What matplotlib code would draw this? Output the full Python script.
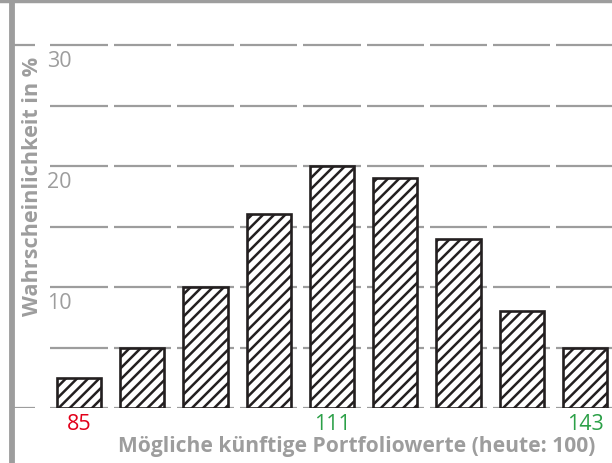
import matplotlib.pyplot as plt
from matplotlib.lines import Line2D

# Daten
categories = ["85", "", "", "", "111", "", "", "", "143"]
values = [2.5, 5, 10, 16, 20, 19, 14, 8, 5]
label_colors = ["#e2001a", None, None, None, "#2ca048", None, None, None, "#2ca048"]
y_ticks = [10, 20, 30]
grid_levels = [0, 5, 10, 15, 20, 25, 30]

GRAY = "#9d9d9d"
plt.rcParams["font.family"] = ["Open Sans", "DejaVu Sans"]
plt.rcParams["hatch.linewidth"] = 1.8
plt.rcParams["hatch.color"] = "#231f20"

W, H = 612, 464
fig = plt.figure(figsize=(W / 100, H / 100), dpi=100)
ax = fig.add_axes([14 / W, (H - 409) / H, 1 - 14 / W, 406 / H])
ax.set_xlim(-1.028, 8.427)
ax.set_ylim(0, 406 / 12.1)
ax.axis("off")

# Gitterlinien, je Kategorie ein Segment
x = list(range(len(values)))
for lvl in grid_levels:
    ax.hlines([lvl] * len(x), [i - 0.452 for i in x], [i + 0.452 for i in x],
              color=GRAY, lw=1.6, zorder=1)
for lvl in [0, 30]:
    ax.hlines(lvl, -1.1, -0.70, color=GRAY, lw=1.6, zorder=1)

ax.bar(x, values, width=0.70, facecolor="white", edgecolor="#231f20",
       linewidth=1.9, hatch="///", zorder=3)

for t in y_ticks:
    ax.text(-0.5, t - 0.4, str(t), color=GRAY, fontsize=15.5,
            ha="left", va="top")

for i, (lab, col) in enumerate(zip(categories, label_colors)):
    if lab:
        ax.text(i, -0.45, lab, color=col, fontsize=15.5, ha="center", va="top")

fig.text(118 / W, 1 - 447 / H, "Mögliche künftige Portfoliowerte (heute: 100)",
         color=GRAY, fontsize=15.1, fontweight="bold", ha="left", va="center")
fig.text(33 / W, 1 - 186 / H, "Wahrscheinlichkeit in %", color=GRAY,
         fontsize=15.6, fontweight="bold", rotation=90, ha="center", va="center")

# Rahmen oben und links
fig.add_artist(Line2D([0, 1], [1 - 1.5 / H, 1 - 1.5 / H], color=GRAY, lw=3.2))
fig.add_artist(Line2D([12 / W, 12 / W], [0, 1], color=GRAY, lw=4.2))

fig.savefig("out.png", dpi=100)
